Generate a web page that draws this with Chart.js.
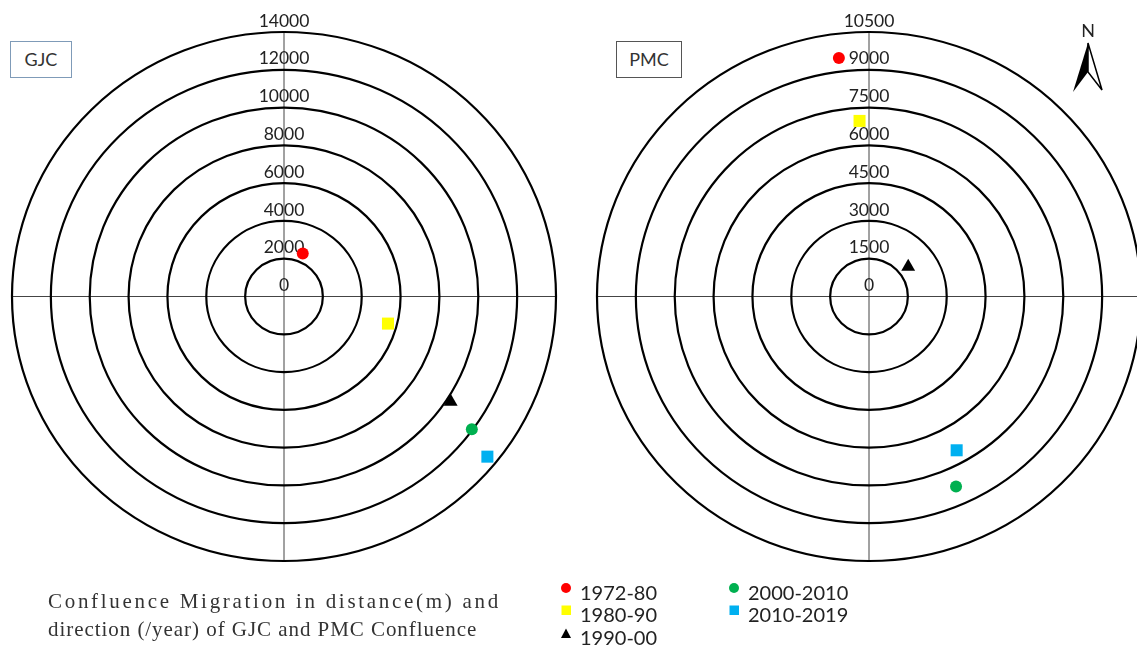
<!DOCTYPE html>
<html>
<head>
<meta charset="utf-8">
<script src="https://cdn.jsdelivr.net/npm/chart.js@4.4.1/dist/chart.umd.min.js"></script>
<style>
  body { margin: 0; width: 1137px; height: 651px; overflow: hidden; background: #fff; position: relative; font-family: Lato, "Open Sans", sans-serif; color: #222; }
  .cv { position: absolute; top: 0; }
  .tag { position: absolute; top: 41px; height: 35px; font-size: 18px; line-height: 35px; text-align: center; color: #333; background: #fff; }
  #caption { position: absolute; left: 48px; top: 587px; font-family: "Liberation Serif", "DejaVu Serif", serif; font-size: 21px; line-height: 28px; color: #333; white-space: nowrap; }
  .lg { position: absolute; font-size: 20px; line-height: 22px; color: #222; white-space: nowrap; }
  .lg svg { position: absolute; left: -19px; top: 2px; }
  #north { position: absolute; left: 1072px; top: 20px; width: 32px; text-align: center; font-size: 18px; line-height: 20px; }
</style>
</head>
<body>
<canvas id="gjc" class="cv" width="570" height="600" style="left:0px"></canvas>
<canvas id="pmc" class="cv" width="600" height="600" style="left:570px"></canvas>

<div class="tag" style="left:10px;width:60px;border:1px solid #7f9bb8">GJC</div>
<div class="tag" style="left:616px;width:64px;border:1px solid #555">PMC</div>

<div id="north">N</div>
<svg style="position:absolute;left:1070px;top:40px" width="36" height="56" viewBox="0 0 36 56">
  <path d="M18 3 L3 52 L18 32 Z" fill="#000"/>
  <path d="M18 3 L32 50 L18 32 Z" fill="#fff" stroke="#000" stroke-width="1.5"/>
</svg>

<div id="caption"><span style="letter-spacing:2.7px">Confluence Migration in distance(m) and</span><br><span style="letter-spacing:0.95px">direction (/year) of GJC and PMC Confluence</span></div>

<div id="legend"></div>

<script>
// periods and their marker look
const periods = ["1972-80", "1980-90", "1990-00", "2000-2010", "2010-2019"];
const colors = ["#ff0000", "#ffff00", "#000000", "#00b050", "#00b0f0"];
const shapes = ["circle", "rect", "triangle", "circle", "rect"];

// GJC: distance (m) and direction (deg from north)
const gjcTicks = [0, 2000, 4000, 6000, 8000, 10000, 12000, 14000];
const gjcDistance = [2470, 5540, 10230, 11950, 13470];
const gjcBearing = [23, 105, 123, 126, 129];

// PMC
const pmcTicks = [0, 1500, 3000, 4500, 6000, 7500, 9000, 10500];
const pmcDistance = [9540, 6980, 1920, 8260, 6980];
const pmcBearing = [353, 357, 52, 156, 151];

const radii = { circle: 6, rect: 8.5, triangle: 8 };

// concentric rings, cross and distance labels
const ringPlugin = {
    id: "rings",
    beforeDatasetsDraw(chart, args, opts) {
        const { ctx } = chart;
        const x = chart.scales.x, y = chart.scales.y;
        const cx = x.getPixelForValue(0), cy = y.getPixelForValue(0);
        ctx.save();
        ctx.strokeStyle = "#444";
        ctx.lineWidth = 1;
        ctx.beginPath();
        ctx.moveTo(x.left, cy); ctx.lineTo(x.right, cy);
        ctx.moveTo(cx, y.top); ctx.lineTo(cx, y.bottom);
        ctx.stroke();

        ctx.strokeStyle = "#000";
        ctx.lineWidth = 2.2;
        opts.ticks.forEach((v) => {
            if (!v) return;
            const rx = x.getPixelForValue(v) - cx;
            const ry = cy - y.getPixelForValue(v);
            ctx.beginPath();
            ctx.ellipse(cx, cy, rx, ry, 0, 0, Math.PI * 2);
            ctx.stroke();
        });

        ctx.fillStyle = "#222";
        ctx.font = "17.5px Lato";
        ctx.textAlign = "center";
        ctx.textBaseline = "middle";
        opts.ticks.forEach((v) => {
            ctx.fillText(String(v), cx, y.getPixelForValue(v) - 11);
        });
        ctx.restore();
    }
};

function makeChart(id, ticks, dist, bearing, pad) {
    const max = ticks[ticks.length - 1];
    const datasets = periods.map((p, i) => {
        const rad = bearing[i] * Math.PI / 180;
        return {
            label: p,
            data: [{ x: dist[i] * Math.sin(rad), y: dist[i] * Math.cos(rad) }],
            pointStyle: shapes[i],
            pointRadius: radii[shapes[i]],
            backgroundColor: colors[i],
            borderColor: colors[i],
            borderWidth: 0,
            clip: false
        };
    });
    return new Chart(document.getElementById(id), {
        type: "scatter",
        data: { datasets },
        options: {
            responsive: false,
            animation: false,
            layout: { padding: pad },
            scales: {
                x: { display: false, min: -max, max: max },
                y: { display: false, min: -max, max: max }
            },
            plugins: {
                legend: { display: false },
                tooltip: { enabled: false },
                rings: { ticks: ticks }
            }
        },
        plugins: [ringPlugin]
    });
}

makeChart("gjc", gjcTicks, gjcDistance, gjcBearing, { left: 12, right: 14, top: 32, bottom: 39 });
makeChart("pmc", pmcTicks, pmcDistance, pmcBearing, { left: 27, right: 29, top: 32, bottom: 39 });

// legend in two columns
const legendPos = [[580, 581], [580, 603], [580, 626], [748, 581], [748, 603]];
const legend = document.getElementById("legend");
periods.forEach((p, i) => {
    const d = document.createElement("div");
    d.className = "lg";
    d.style.left = legendPos[i][0] + "px";
    d.style.top = legendPos[i][1] + "px";
    let mark;
    if (shapes[i] === "circle") mark = `<circle cx="5" cy="5" r="5" fill="${colors[i]}"/>`;
    else if (shapes[i] === "rect") mark = `<rect x="0.5" y="0.5" width="9.5" height="9.5" fill="${colors[i]}"/>`;
    else mark = `<path d="M5 0.5 L10 10 L0 10 Z" fill="${colors[i]}"/>`;
    d.innerHTML = `<svg width="11" height="11">${mark}</svg>${p}`;
    legend.appendChild(d);
});
</script>
</body>
</html>
